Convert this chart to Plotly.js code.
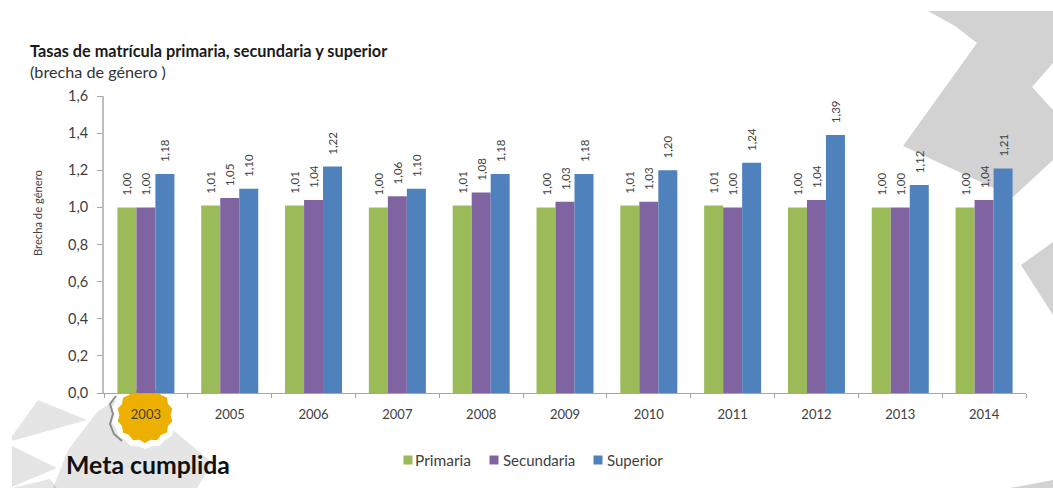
<!DOCTYPE html>
<html>
<head>
<meta charset="utf-8">
<script src="https://cdn.plot.ly/plotly-3.0.1.min.js"></script>
<style>html,body{margin:0;padding:0;background:#fff}</style>
</head>
<body>
<div id="chart" style="width:1053px;height:489px"></div>
<script>
// Gender gap in enrolment rates by education level
const years = ["2003","2005","2006","2007","2008","2009","2010","2011","2012","2013","2014"];
const primaria = [1.00,1.01,1.01,1.00,1.01,1.00,1.01,1.01,1.00,1.00,1.00];
const secundaria = [1.00,1.05,1.04,1.06,1.08,1.03,1.03,1.00,1.04,1.00,1.04];
const superior = [1.18,1.10,1.22,1.10,1.18,1.18,1.20,1.24,1.39,1.12,1.21];

const W = 1053, H = 489;
const M = {l:104, r:27, t:96, b:96};
const FONT = "Lato, 'Open Sans', sans-serif";
const INK = "#404040";

// Slide decoration, outlined in page pixels
const darkShards = [
  [[928,11],[955,26],[977,43],[903,146],[1013,197],[1053,160],[1053,110],[1032,87],[1053,63],[1053,11]],
  [[1053,242],[1021,265],[1053,315]],
  [[1010,488],[1053,480],[1053,488]]
];
const lightShards = [
  [[12,488],[50,479],[57,488]],
  [[115,400],[97,412],[68,450],[53,488],[130,488],[130,430]],
  [[173,430],[213,463],[197,488],[130,488],[130,445]],
  [[12,436],[38,400],[87,420],[12,441]],
  [[12,446],[57,468],[12,487]]
];

const toX = px => (px - M.l) / (W - M.l - M.r);
const toY = py => (H - M.b - py) / (H - M.t - M.b);
const pathOf = pts => "M" + pts.map(p => toX(p[0]).toFixed(5) + "," + toY(p[1]).toFixed(5)).join("L") + "Z";
const openPathOf = pts => "M" + pts.map(p => toX(p[0]).toFixed(5) + "," + toY(p[1]).toFixed(5)).join("L");

// Scalloped badge outline behind the first year label
function starPoints(cx, cy, outer, inner, n) {
  const pts = [];
  for (let i = 0; i < n * 2; i++) {
    const a = Math.PI * i / n + Math.PI / 2;
    const r = i % 2 ? inner : outer;
    pts.push([cx + r * Math.cos(a), cy + r * Math.sin(a)]);
  }
  return pts;
}
const fillShape = (pts, color) => ({type:"path", xref:"paper", yref:"paper", path:pathOf(pts),
  fillcolor:color, opacity:1, line:{width:0}, layer:"below"});

const tornEdge = [[116,396],[110,404],[113,414],[110,424],[114,434],[122,441]];

const series = [
  {name:"Primaria", y:primaria, color:"#9bbb59", swatchX:408, labelX:413, labelSize:15.5},
  {name:"Secundaria", y:secundaria, color:"#8064a2", swatchX:494, labelX:501, labelSize:15},
  {name:"Superior", y:superior, color:"#4f81bd", swatchX:598, labelX:605, labelSize:15}
];

const swatches = series.map(s => fillShape(
  [[s.swatchX-4.5,455.5],[s.swatchX+4.5,455.5],[s.swatchX+4.5,464.5],[s.swatchX-4.5,464.5]], s.color));

const shapes = [
  ...darkShards.map(p => fillShape(p, "#d2d2d2")),
  ...lightShards.map(p => fillShape(p, "rgba(0,0,0,0.1)")),
  fillShape(starPoints(145,415,34,32,14), "#ffffff"),
  {type:"path", xref:"paper", yref:"paper", path:openPathOf(tornEdge), line:{color:"#8c8c8c", width:2}, layer:"below"},
  fillShape(starPoints(145,415,28,25.5,14), "#eeb000"),
  ...swatches
];

const traces = series.map(s => ({
  type:"bar", name:s.name, x:years, y:s.y,
  marker:{color:s.color},
  texttemplate:"\u00a0\u00a0\u00a0%{y:.2f}", textposition:"outside", textangle:-90, cliponaxis:false,
  constraintext:"none",
  textfont:{family:FONT, size:11.5, color:INK}, hoverinfo:"x+y+name"
}));

const note = (px, py, text, size, color, extra) => Object.assign({xref:"paper", yref:"paper",
  x:toX(px), y:toY(py), xanchor:"left", yanchor:"middle", showarrow:false, text:text,
  font:{family:FONT, size:size, color:color}}, extra || {});

const layout = {
  width:W, height:H, margin:M, paper_bgcolor:"rgba(0,0,0,0)", plot_bgcolor:"rgba(0,0,0,0)",
  separators:",.", barmode:"group", bargap:0.32, bargroupgap:0, font:{family:FONT, color:INK},
  showlegend:false,
  xaxis:{type:"category", tickson:"boundaries", ticks:"outside", ticklen:4, tickcolor:"#a6a6a6",
    showline:true, linecolor:"#a6a6a6", linewidth:1, showgrid:false, zeroline:false, ticklabelstandoff:9,
    tickfont:{family:FONT, size:13, color:INK}},
  yaxis:{range:[0,1.6], tick0:0, dtick:0.2, tickformat:".1f", ticks:"outside", ticklen:5, tickcolor:"#a6a6a6",
    showline:true, linecolor:"#bdbdbd", linewidth:2, showgrid:false, zeroline:false, ticklabelstandoff:6,
    tickfont:{family:FONT, size:14.5, color:INK}},
  shapes:shapes,
  annotations:[
    note(28, 50, "<b>Tasas de matrícula primaria, secundaria y superior</b>", 16.3, "#1a1a1a"),
    note(28, 71, "(brecha de género )", 16.2, "#333333"),
    note(37, 213, "Brecha de género", 11.2, INK, {xanchor:"center", textangle:-90}),
    note(64, 464, "<b>Meta cumplida</b>", 24.8, "#111111"),
    ...series.map(s => note(s.labelX, 460, s.name, s.labelSize, INK))
  ]
};

Plotly.newPlot("chart", traces, layout, {displayModeBar:false, staticPlot:true});
</script>
</body>
</html>
